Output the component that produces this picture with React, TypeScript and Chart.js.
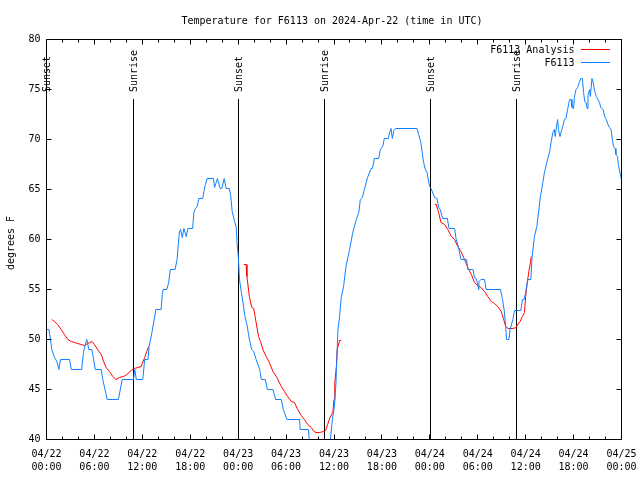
import { useEffect, useRef } from "react";
import { Chart, registerables } from "chart.js";

Chart.register(...registerables);

const FONT = "'DejaVu Sans Mono', 'Liberation Mono', monospace";
const TITLE = "Temperature for F6113 on 2024-Apr-22 (time in UTC)";
const Y_LABEL = "degrees F";
const SERIES_NAMES = ["F6113 Analysis", "F6113"];
const SERIES_COLORS = ["#ff0000", "#1080ff"];

const tickDates = ["04/22", "04/22", "04/22", "04/22", "04/23", "04/23", "04/23", "04/23", "04/24", "04/24", "04/24", "04/24", "04/25"];
const tickTimes = ["00:00", "06:00", "12:00", "18:00", "00:00", "06:00", "12:00", "18:00", "00:00", "06:00", "12:00", "18:00", "00:00"];

const sunHours = [0.0, 10.88, 24.03, 34.83, 48.05, 58.8];
const sunLabels = ["Sunset", "Sunrise", "Sunset", "Sunrise", "Sunset", "Sunrise"];

// hours since 2024-04-22 00:00 UTC
const observedHours = [
  0.0, 0.3, 0.5, 0.66, 1.0, 1.3, 1.55, 1.75, 2.88, 3.1, 4.4, 4.63, 4.85, 5.05, 5.3, 5.67, 5.9, 6.1, 6.85, 7.05,
  7.6, 9.0, 9.48, 10.9, 11.05, 11.25, 12.05, 12.3, 12.7, 12.85, 13.2, 13.7, 14.35, 14.5, 14.6, 15.07, 15.3, 15.5,
  16.1, 16.35, 16.5, 16.65, 16.8, 17.0, 17.2, 17.5, 17.7, 18.3, 18.45, 18.65, 18.87, 19.07, 19.57, 19.7, 19.9,
  20.1, 20.9, 21.05, 21.2, 21.4, 21.75, 21.95, 22.25, 22.5, 22.9, 23.05, 23.25, 23.55, 23.75, 23.87, 24.0, 24.17,
  24.4, 24.6, 24.85, 25.1, 25.4, 25.7, 25.95, 26.25, 26.7, 26.9, 27.4, 27.65, 28.35, 28.7, 29.4, 29.65, 30.1,
  31.7, 31.75, 32.8, 32.9, 33.3, 34.3, 35.2, 35.55, 35.8, 36.05, 36.25, 36.3, 36.5, 36.7, 36.9, 37.2, 37.5,
  37.95, 38.35, 38.8, 39.1, 39.3, 39.55, 39.8, 40.2, 40.65, 40.8, 41.07, 41.6, 41.8, 42.1, 42.3, 42.8, 43.0,
  43.15, 43.3, 43.5, 43.7, 46.4, 46.6, 46.85, 47.05, 47.2, 47.4, 47.65, 47.96, 48.15, 48.6, 48.9, 49.1, 49.3,
  49.6, 50.2, 50.4, 51.1, 51.3, 51.6, 51.9, 52.6, 52.75, 53.4, 53.6, 53.8, 53.95, 54.1, 54.15, 54.4, 54.85,
  55.05, 56.85, 57.1, 57.3, 57.5, 57.6, 57.9, 58.05, 58.4, 58.6, 59.4, 59.6, 59.8, 60.0, 60.2, 60.3, 60.65,
  60.8, 61.1, 61.4, 61.7, 61.85, 62.15, 62.35, 62.65, 63.0, 63.2, 63.4, 63.6, 63.7, 63.85, 64.0, 64.1, 64.3,
  64.45, 64.65, 64.85, 65.05, 65.25, 65.5, 65.7, 65.8, 66.0, 66.1, 66.3, 66.5, 66.7, 66.9, 67.1, 67.25, 67.4,
  67.55, 67.7, 67.8, 68.0, 68.1, 68.3, 68.45, 68.65, 68.85, 69.05, 69.25, 69.4, 69.7, 69.9, 70.1, 70.3, 70.5,
  70.7, 70.85, 71.0, 71.2, 71.3, 71.5, 71.6, 71.85, 72.0,
];
const observedTemps = [
  51.0, 51.0, 50.0, 49.0, 48.2, 47.8, 47.0, 48.0, 48.0, 47.0, 47.0, 48.7, 49.5, 50.0, 49.0, 49.0, 48.0, 47.0, 47.0, 46.0,
  44.0, 44.0, 46.0, 46.0, 47.0, 46.0, 46.0, 48.0, 48.0, 49.3, 50.7, 53.0, 53.0, 54.5, 55.0, 55.0, 55.7, 57.0,
  57.0, 58.0, 59.5, 60.8, 61.0, 60.2, 61.1, 60.3, 61.1, 61.1, 62.7, 63.1, 63.3, 64.1, 64.1, 64.8, 65.5,
  66.1, 66.1, 65.2, 65.6, 66.1, 65.1, 65.1, 66.1, 65.1, 65.1, 64.5, 62.8, 61.8, 61.3, 59.5, 58.5, 56.0,
  54.7, 53.7, 52.3, 51.5, 50.0, 49.0, 48.8, 48.0, 47.0, 46.0, 46.0, 45.0, 45.0, 44.0, 44.0, 43.0, 42.0,
  42.0, 41.0, 41.0, 40.0, 39.0, 38.5, 39.0, 40.0, 42.0, 43.3, 45.7, 47.0, 51.0, 52.3, 54.2, 55.3, 57.3,
  59.0, 60.7, 62.0, 62.7, 64.0, 64.2, 65.0, 66.2, 67.1, 67.1, 68.1, 68.1, 69.0, 69.3, 70.1, 70.1, 70.8,
  71.1, 70.1, 70.9, 71.1, 71.1, 70.5, 69.8, 68.7, 67.8, 67.1, 66.7, 65.3, 65.1, 64.2, 64.1, 63.2, 63.0,
  62.1, 62.1, 61.1, 61.1, 60.0, 59.2, 58.0, 58.0, 57.0, 57.0, 56.2, 56.1, 55.7, 55.0, 55.8, 56.0, 56.0,
  55.0, 55.0, 54.0, 53.0, 51.3, 50.0, 50.0, 51.0, 52.0, 52.9, 52.9, 54.0, 54.0, 54.7, 55.7, 56.0, 56.0,
  58.2, 60.3, 61.3, 63.3, 64.3, 65.7, 66.7, 67.7, 68.8, 69.8, 70.7, 71.0, 70.3, 71.3, 72.0, 71.0, 70.3,
  70.8, 71.3, 72.0, 72.1, 73.0, 74.0, 74.0, 73.2, 73.1, 74.2, 75.0, 75.2, 75.7, 76.1, 76.1, 74.7, 73.8,
  73.7, 73.1, 74.4, 75.0, 74.3, 76.1, 75.7, 74.8, 74.3, 74.0, 73.7, 73.2, 73.0, 72.3, 72.0, 71.5, 71.2,
  71.0, 70.0, 69.3, 69.1, 68.5, 68.3, 67.5, 66.5, 66.0,
];

const analysisHours = [
  0.67, 1.0, 1.4, 1.83, 2.25, 2.67, 3.1, 3.5, 3.9, 4.35, 4.75, 5.17, 5.7, 6.0, 6.4, 6.85, 7.15, 7.47, 7.9, 8.3,
  8.7, 9.15, 9.65, 10.05, 10.6, 11.0, 11.45, 11.85, 12.3, 12.55, 12.8,
  18.0,
  24.7, 25.0, 25.1, 25.4, 25.7, 25.95, 26.25, 26.55, 26.8, 27.1, 27.5, 27.9, 28.35, 28.85, 29.4, 29.8, 30.2,
  30.65, 31.05, 31.45, 31.9, 32.3, 32.7, 33.15, 33.5, 33.75, 34.2, 34.7, 34.95, 35.2, 35.5, 35.85, 36.0, 36.1,
  36.3, 36.4, 36.7, 36.9,
  42.0,
  48.6, 48.8, 49.1, 49.4, 49.85, 50.25, 50.7, 51.1, 51.5, 51.9, 52.35, 52.75, 53.2, 53.6, 54.0, 54.4, 54.85,
  55.25, 55.7, 56.1, 56.5, 56.95, 57.25, 57.5, 57.8, 58.4, 58.8, 59.0, 59.3, 59.6, 59.85, 60.0, 60.2, 60.4,
  60.6, 60.7,
];
const analysisTemps = [
  52.0, 51.8, 51.5, 51.0, 50.5, 50.0, 49.8, 49.7, 49.6, 49.5, 49.4, 49.6, 49.8, 49.5, 49.0, 48.5, 47.8, 47.2, 46.8, 46.3,
  46.0, 46.2, 46.3, 46.5, 46.9, 47.1, 47.2, 47.3, 48.2, 48.8, 49.3,
  null,
  57.5, 57.5, 56.3, 54.3, 53.2, 53.1, 51.7, 50.3, 49.8, 49.0, 48.3, 47.7, 46.8, 46.2, 45.3, 44.8, 44.3,
  43.8, 43.7, 43.0, 42.4, 42.0, 41.5, 41.2, 40.8, 40.7, 40.7, 40.8, 40.9, 41.5, 42.2, 42.7, 44.0, 45.7,
  47.3, 49.0, 49.9, 49.9,
  null,
  63.5, 63.5, 62.7, 61.7, 61.5, 61.0, 60.3, 60.0, 59.3, 58.8, 58.0, 57.2, 56.5, 55.7, 55.4, 55.2, 54.8,
  54.3, 53.8, 53.6, 53.3, 52.8, 52.0, 51.3, 51.1, 51.1, 51.2, 51.5, 51.8, 52.3, 52.7, 54.3, 55.7, 56.8,
  57.7, 58.3,
];

const snap = (v: number) => Math.round(v - 0.5) + 0.5;

const gnuplotFrame = {
  id: "gnuplotFrame",
  beforeDatasetsDraw(chart: any) {
    const { ctx, chartArea: a, scales } = chart;
    const xs = scales.x;
    ctx.save();
    ctx.strokeStyle = "#000";
    ctx.fillStyle = "#000";
    ctx.lineWidth = 1;
    ctx.font = `10px ${FONT}`;
    sunHours.forEach((h, i) => {
      const px = snap(xs.getPixelForValue(h));
      ctx.beginPath();
      ctx.moveTo(px, a.top + 59.5);
      ctx.lineTo(px, a.bottom);
      ctx.stroke();
      ctx.save();
      ctx.translate(px + 1.2, a.top + 52.5);
      ctx.rotate(-Math.PI / 2);
      ctx.textAlign = "left";
      ctx.textBaseline = "middle";
      ctx.fillText(sunLabels[i], 0, 0);
      ctx.restore();
    });
    ctx.restore();
  },
  afterDraw(chart: any) {
    const { ctx, chartArea: a, scales } = chart;
    const xs = scales.x;
    const ys = scales.y;
    ctx.save();
    ctx.strokeStyle = "#000";
    ctx.fillStyle = "#000";
    ctx.lineWidth = 1;
    // frame
    ctx.strokeRect(a.left, a.top, a.right - a.left, a.bottom - a.top);
    // x ticks (inward, top and bottom)
    ctx.beginPath();
    for (let h = xs.min; h <= xs.max; h += 2) {
      const px = snap(xs.getPixelForValue(h));
      const len = h % 6 === 0 ? 5 : 3;
      ctx.moveTo(px, a.bottom);
      ctx.lineTo(px, a.bottom - len);
      ctx.moveTo(px, a.top);
      ctx.lineTo(px, a.top + len);
    }
    // y ticks (inward, left and right)
    for (let v = ys.min; v <= ys.max; v += 5) {
      const py = snap(ys.getPixelForValue(v));
      ctx.moveTo(a.left, py);
      ctx.lineTo(a.left + 5, py);
      ctx.moveTo(a.right, py);
      ctx.lineTo(a.right - 5, py);
    }
    ctx.stroke();

    ctx.font = `10px ${FONT}`;
    // title
    ctx.textAlign = "center";
    ctx.textBaseline = "middle";
    ctx.fillText(TITLE, 332, 21);
    // y label
    ctx.save();
    ctx.translate(11.5, 243);
    ctx.rotate(-Math.PI / 2);
    ctx.fillText(Y_LABEL, 0, 0);
    ctx.restore();
    // legend
    const rows = [50.6, 63.3];
    SERIES_NAMES.forEach((name, i) => {
      ctx.textAlign = "right";
      ctx.fillStyle = "#000";
      ctx.fillText(name, 574.5, rows[i]);
      ctx.strokeStyle = SERIES_COLORS[i];
      const ly = snap(rows[i] - 1);
      ctx.beginPath();
      ctx.moveTo(581, ly);
      ctx.lineTo(610, ly);
      ctx.stroke();
    });
    ctx.restore();
  },
};

export default function App() {
  const canvasRef = useRef<HTMLCanvasElement | null>(null);

  useEffect(() => {
    if (!canvasRef.current) return;
    const observed = observedHours.map((h, i) => ({ x: h, y: observedTemps[i] }));
    const analysis = analysisHours.map((h, i) => ({ x: h, y: analysisTemps[i] }));
    const chart = new Chart(canvasRef.current, {
      type: "line",
      data: {
        datasets: [
          {
            label: SERIES_NAMES[0],
            data: analysis,
            borderColor: SERIES_COLORS[0],
            backgroundColor: SERIES_COLORS[0],
            borderWidth: 1,
            pointRadius: 0,
            tension: 0,
            spanGaps: false,
            fill: false,
            order: 2,
          },
          {
            label: SERIES_NAMES[1],
            data: observed,
            borderColor: SERIES_COLORS[1],
            backgroundColor: SERIES_COLORS[1],
            borderWidth: 1,
            pointRadius: 0,
            tension: 0,
            fill: false,
            order: 1,
          },
        ],
      },
      options: {
        responsive: false,
        animation: false,
        devicePixelRatio: 1,
        layout: { padding: { top: 39.5, right: 18.5, left: 0, bottom: 0 } },
        plugins: {
          legend: { display: false },
          title: { display: false },
          tooltip: { enabled: false },
        },
        scales: {
          x: {
            type: "linear",
            min: 0,
            max: 72,
            grid: { display: false, drawTicks: false },
            border: { display: false },
            afterFit: (scale: any) => {
              scale.height = 40.5;
              scale.paddingLeft = 0;
              scale.paddingRight = 0;
            },
            ticks: {
              stepSize: 6,
              autoSkip: false,
              maxRotation: 0,
              minRotation: 0,
              padding: 9,
              color: "#000",
              font: { family: FONT, size: 10, lineHeight: 1.27 },
              callback: (value: any) => {
                const i = Math.round(Number(value) / 6);
                return [tickDates[i], tickTimes[i]];
              },
            },
          },
          y: {
            type: "linear",
            min: 40,
            max: 80,
            grid: { display: false, drawTicks: false },
            border: { display: false },
            afterFit: (scale: any) => {
              scale.width = 46.5;
              scale.paddingTop = 0;
              scale.paddingBottom = 0;
            },
            ticks: {
              stepSize: 5,
              padding: 6,
              color: "#000",
              font: { family: FONT, size: 10 },
            },
          },
        },
      },
      plugins: [gnuplotFrame],
    });
    return () => chart.destroy();
  }, []);

  return (
    <div style={{ position: "absolute", left: 0, top: 0, width: 640, height: 480, background: "#fff" }}>
      <canvas ref={canvasRef} width={640} height={480} style={{ display: "block" }} />
    </div>
  );
}
